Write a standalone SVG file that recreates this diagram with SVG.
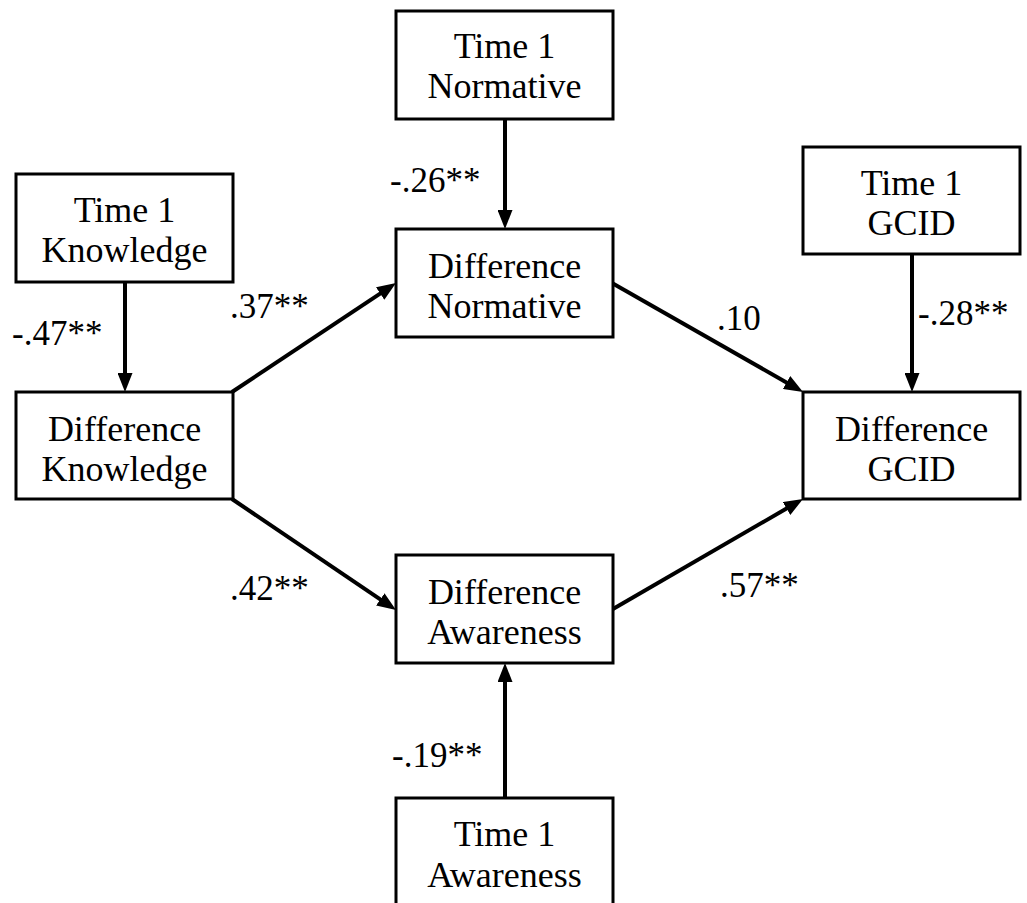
<svg xmlns="http://www.w3.org/2000/svg" width="1027" height="903" viewBox="0 0 1027 903">
<style>
.box{fill:#fff;stroke:#000;stroke-width:3}
.t{font-family:"Liberation Serif","Times New Roman","DejaVu Serif",serif;font-size:36px;fill:#000;text-anchor:middle}
.lbl{font-family:"Liberation Serif","Times New Roman","DejaVu Serif",serif;font-size:35px;fill:#000}
.c{stroke:#000;stroke-width:4;fill:none;marker-end:url(#ah)}
</style>
<defs>
<marker id="ah" markerUnits="userSpaceOnUse" markerWidth="19" markerHeight="15" viewBox="0 0 19 15" refX="4" refY="7.5" orient="auto">
<path d="M0,0 L19,7.5 L0,15 z" fill="#000"/>
</marker>
</defs>
<rect width="1027" height="903" fill="#fff"/>
<g id="connectors">
<line class="c" x1="505" y1="119" x2="505" y2="214"/>
<line class="c" x1="125" y1="282" x2="125" y2="377"/>
<line class="c" x1="912" y1="254" x2="912" y2="377"/>
<line class="c" x1="505" y1="798" x2="505" y2="678"/>
<line class="c" x1="232" y1="392" x2="383.5" y2="291.3"/>
<line class="c" x1="232" y1="499" x2="383.6" y2="601.6"/>
<line class="c" x1="612" y1="283" x2="790" y2="384.5"/>
<line class="c" x1="613" y1="609" x2="790" y2="506.5"/>
</g>
<g id="labels">
<text class="lbl" x="390" y="192">-.26**</text>
<text class="lbl" x="12" y="345">-.47**</text>
<text class="lbl" x="230" y="318">.37**</text>
<text class="lbl" x="717" y="330">.10</text>
<text class="lbl" x="918" y="325">-.28**</text>
<text class="lbl" x="230" y="600">.42**</text>
<text class="lbl" x="720" y="597">.57**</text>
<text class="lbl" x="392" y="767">-.19**</text>
</g>
<g id="t1-normative"><rect class="box" x="396" y="11" width="217" height="108"/><text class="t" x="504.5" y="58">Time 1</text><text class="t" x="504.5" y="98">Normative</text></g>
<g id="t1-knowledge"><rect class="box" x="16" y="174" width="217" height="108"/><text class="t" x="124.5" y="222">Time 1</text><text class="t" x="124.5" y="262">Knowledge</text></g>
<g id="t1-gcid"><rect class="box" x="803" y="147" width="217" height="107"/><text class="t" x="911.5" y="195">Time 1</text><text class="t" x="911.5" y="235">GCID</text></g>
<g id="diff-normative"><rect class="box" x="396" y="229" width="217" height="108"/><text class="t" x="504.5" y="278">Difference</text><text class="t" x="504.5" y="318">Normative</text></g>
<g id="diff-knowledge"><rect class="box" x="16" y="392" width="217" height="107"/><text class="t" x="124.5" y="441">Difference</text><text class="t" x="124.5" y="481">Knowledge</text></g>
<g id="diff-gcid"><rect class="box" x="803" y="392" width="217" height="107"/><text class="t" x="911.5" y="441">Difference</text><text class="t" x="911.5" y="481">GCID</text></g>
<g id="diff-awareness"><rect class="box" x="396" y="555" width="217" height="108"/><text class="t" x="504.5" y="604">Difference</text><text class="t" x="504.5" y="644">Awareness</text></g>
<g id="t1-awareness"><rect class="box" x="396" y="798" width="217" height="120"/><text class="t" x="504.5" y="846">Time 1</text><text class="t" x="504.5" y="887">Awareness</text></g>
</svg>
